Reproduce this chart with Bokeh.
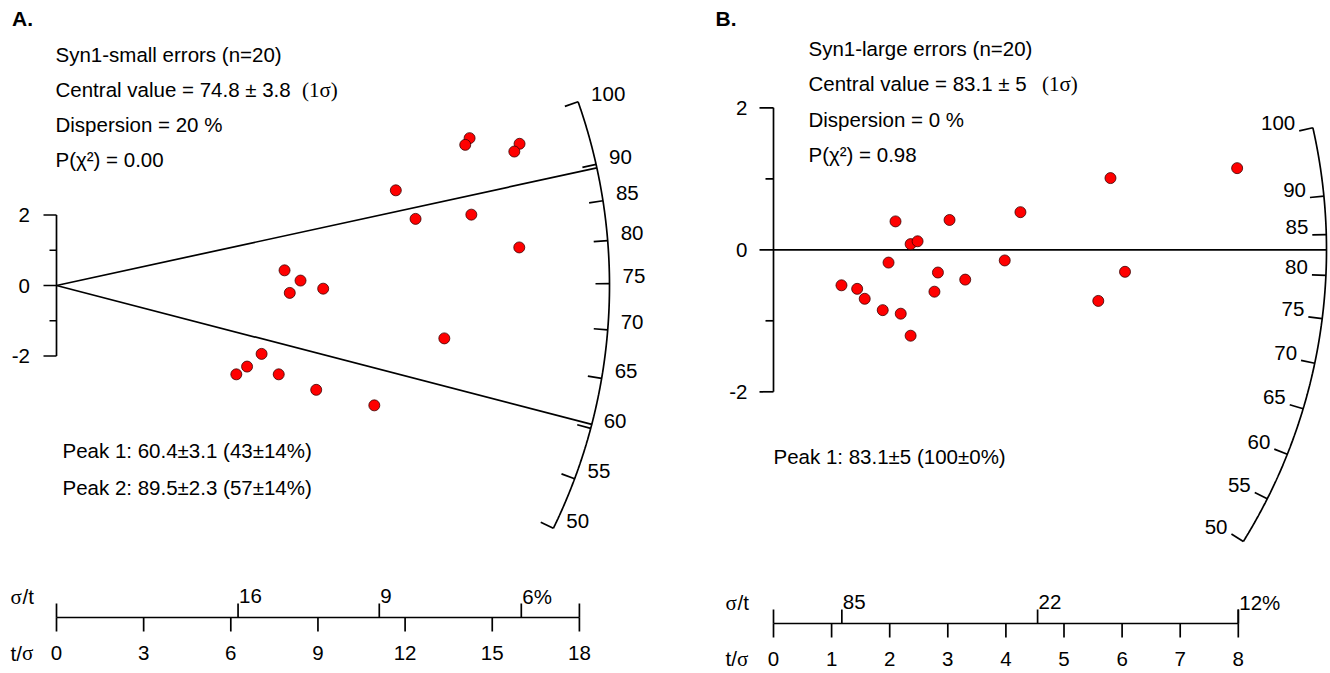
import numpy as np
from bokeh.plotting import figure
from bokeh.layouts import row
from bokeh.core.properties import value
from bokeh.embed import file_html
from bokeh.resources import INLINE

# ---------------- data: panel A ----------------
A_stats = ["Syn1-small errors (n=20)", "Central value = 74.8 ± 3.8", "Dispersion = 20 %", "P(χ²) = 0.00"]
A_central = 74.8
A_peaks = [60.4, 89.5]
A_peak_text = ["Peak 1: 60.4±3.1 (43±14%)", "Peak 2: 89.5±2.3 (57±14%)"]
A_t_sigma = [7.85, 8.40, 8.03, 9.18, 7.06, 6.56, 6.19, 7.65, 8.94, 14.22,
             14.07, 15.94, 15.76, 11.68, 12.36, 14.28, 15.93, 13.35, 10.94]
A_z = [0.43, 0.14, -0.21, -0.09, -1.94, -2.30, -2.52, -2.52, -2.96, 4.18,
       3.99, 4.02, 3.80, 2.70, 1.89, 2.01, 1.08, -1.50, -3.40]
A_arc_ticks = [50, 55, 60, 65, 70, 75, 80, 85, 90, 100]
A_x_ticks = [0, 3, 6, 9, 12, 15, 18]
A_sig_t = [16, 9, 6.25]
A_sig_t_labels = ["16", "9", "6%"]

# ---------------- data: panel B ----------------
B_stats = ["Syn1-large errors (n=20)", "Central value = 83.1 ± 5", "Dispersion = 0 %", "P(χ²) = 0.98"]
B_central = 83.1
B_peak_text = ["Peak 1: 83.1±5 (100±0%)"]
B_t_sigma = [1.17, 1.44, 1.57, 1.88, 2.19, 2.36, 1.98, 2.10, 2.36, 2.48,
             2.83, 2.77, 3.03, 3.30, 3.98, 4.25, 5.80, 7.98, 6.05, 5.59]
B_z = [-0.50, -0.55, -0.69, -0.85, -0.90, -1.21, -0.18, 0.40, 0.08, 0.12,
       -0.32, -0.59, 0.42, -0.42, -0.15, 0.53, 1.01, 1.15, -0.31, -0.72]
B_arc_ticks = [50, 55, 60, 65, 70, 75, 80, 85, 90, 100]
B_x_ticks = [0, 1, 2, 3, 4, 5, 6, 7, 8]
B_sig_t = [85, 22, 12.5]
B_sig_t_labels = ["85", "22", "12%"]

Z_ticks = [-2, -1, 0, 1, 2]
Z_labels = {-2: "-2", 0: "0", 2: "2"}

SANS = value("Liberation Sans")
SERIF = value("Liberation Serif")
FS = "20.5px"


def panel(cfg, letter, stats, central, peaks, peak_text, xs, zs,
          arc_ticks, x_ticks, sig_t, sig_t_labels):
    ox, oy, kx, ky, R = cfg["ox"], cfg["oy"], cfg["kx"], cfg["ky"], cfg["R"]
    left, W, H = cfg["left"], cfg["W"], cfg["H"]

    def X(sx):
        return (sx - ox) / kx

    def Y(sy):
        return (oy - sy) / ky

    p = figure(width=W, height=H, x_range=(X(left), X(left + W)),
               y_range=(Y(H), Y(0)), output_backend="svg",
               toolbar_location=None, x_axis_location=None,
               y_axis_location=None, min_border=0, title=None)
    p.grid.grid_line_color = None
    p.outline_line_color = None

    def txt(sx, sy, s, size=FS, font=SANS, align="left", style="normal"):
        p.text(x=[X(sx)], y=[Y(sy)], text=[s], text_font=font,
               text_font_size=size, text_align=align, text_baseline="middle",
               text_font_style=style, text_color="black")

    def arc_pt(t, r_px):
        t = np.asarray(t, dtype=float)
        s = np.log(t / central)
        x = r_px / kx / np.sqrt(1.0 + (s * ky / kx) ** 2)
        return x, x * s

    LW = 1.7
    # arc
    tt = np.linspace(min(arc_ticks), max(arc_ticks), 300)
    ax_, ay_ = arc_pt(tt, R)
    p.line(ax_, ay_, line_color="black", line_width=LW)
    x0, y0 = arc_pt(arc_ticks, R)
    x1, y1 = arc_pt(arc_ticks, R - 14)
    p.segment(x0, y0, x1, y1, line_color="black", line_width=LW)
    labels = [str(t) for t in arc_ticks]
    if cfg["arc_labels_out"]:
        p.text(x=x0, y=y0, text=labels, text_font=SANS, text_font_size=FS,
               text_align="left", text_baseline="middle", x_offset=13,
               y_offset=-7.5)
    else:
        p.text(x=x1, y=y1, text=labels, text_font=SANS, text_font_size=FS,
               text_align="right", text_baseline="middle", x_offset=-4,
               y_offset=-7.5)

    # radial lines
    if peaks:
        px_, py_ = arc_pt(peaks, R)
        p.segment([0] * len(peaks), [0] * len(peaks), px_, py_,
                  line_color="black", line_width=LW)
    else:
        cx, cy = arc_pt([central], R)
        p.segment([0], [0], cx, cy, line_color="black", line_width=LW)

    # z axis
    p.segment([0], [-2], [0], [2], line_color="black", line_width=LW)
    tl = [cfg["zmaj"] if z % 2 == 0 else cfg["zmin"] for z in Z_ticks]
    p.segment([-l / kx for l in tl], Z_ticks, [0] * len(Z_ticks), Z_ticks,
              line_color="black", line_width=LW)
    for z, lab in Z_labels.items():
        p.text(x=[X(cfg["zlab_right"])], y=[z], text=[lab], text_font=SANS,
               text_font_size=FS, text_align="right", text_baseline="middle")

    # points
    p.scatter(xs, zs, size=11, fill_color="#FF0000", line_color="#3a0000",
              line_width=0.8)

    # bottom axis
    ly = cfg["axis_y"]
    xmax = max(x_ticks)
    p.segment([0], [Y(ly)], [xmax], [Y(ly)], line_color="black", line_width=LW)
    p.segment(x_ticks, [Y(ly)] * len(x_ticks), x_ticks,
              [Y(ly + 14)] * len(x_ticks), line_color="black", line_width=LW)
    p.segment([0, xmax], [Y(ly)] * 2, [0, xmax], [Y(ly - 14)] * 2,
              line_color="black", line_width=LW)
    sx_pos = [100.0 / v for v in sig_t]
    p.segment(sx_pos, [Y(ly)] * len(sx_pos), sx_pos,
              [Y(ly - 14)] * len(sx_pos), line_color="black", line_width=LW)
    p.text(x=sx_pos, y=[Y(ly - 14)] * len(sx_pos), text=sig_t_labels,
           text_font=SANS, text_font_size=FS, text_align="left",
           text_baseline="middle", x_offset=1, y_offset=-7.5)
    p.text(x=x_ticks, y=[Y(cfg["tlab_c"])] * len(x_ticks),
           text=[str(v) for v in x_ticks], text_font=SANS, text_font_size=FS,
           text_align="center", text_baseline="middle")
    # axis names
    nx = cfg["name_x"]
    txt(nx, cfg["siglab_c"], "σ", size="21px", font=SERIF)
    txt(nx + 12, cfg["siglab_c"], "/t")
    txt(nx, cfg["tlab_c"], "t/")
    txt(nx + 11.5, cfg["tlab_c"], "σ", size="21px", font=SERIF)

    # titles / stats
    txt(cfg["letter_x"], 17.5, letter, size="21px", style="bold")
    for s, c in zip(stats, cfg["stat_c"]):
        txt(cfg["stat_x"], c, s)
    txt(cfg["sigma_x"], cfg["stat_c"][1], "(1σ)", size="21px", font=SERIF)
    for s, c in zip(peak_text, cfg["peak_c"]):
        txt(cfg["peak_x"], c, s)
    return p


cfgA = dict(left=0, W=688, H=673, ox=56, oy=285, kx=29.05, ky=35.25, R=553,
            arc_labels_out=True, zmaj=13, zmin=7, zlab_right=29.5,
            axis_y=617, tlab_c=652.5, siglab_c=596, name_x=10,
            letter_x=11.5, stat_x=55, stat_c=[54, 89, 124, 159],
            sigma_x=301.5, peak_x=62, peak_c=[450, 487])
cfgB = dict(left=688, W=642, H=673, ox=773, oy=249.3, kx=58.1, ky=71.0, R=553,
            arc_labels_out=False, zmaj=14, zmin=8, zlab_right=747,
            axis_y=623, tlab_c=658, siglab_c=602, name_x=725,
            letter_x=715, stat_x=808, stat_c=[48, 83, 118.5, 154],
            sigma_x=1041.5, peak_x=773, peak_c=[456])

pA = panel(cfgA, "A.", A_stats, A_central, A_peaks, A_peak_text, A_t_sigma, A_z,
           A_arc_ticks, A_x_ticks, A_sig_t, A_sig_t_labels)
pB = panel(cfgB, "B.", B_stats, B_central, [], B_peak_text, B_t_sigma, B_z,
           B_arc_ticks, B_x_ticks, B_sig_t, B_sig_t_labels)

layout = row(pA, pB)
open("out.html", "w").write(file_html(layout, INLINE))
